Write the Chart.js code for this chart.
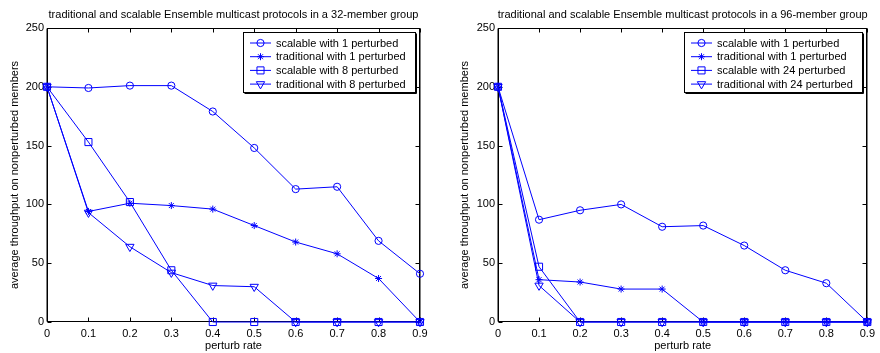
<!DOCTYPE html>
<html>
<head>
<meta charset="utf-8">
<script src="https://cdn.jsdelivr.net/npm/chart.js@4/dist/chart.umd.min.js"></script>
<style>
  html, body { margin: 0; padding: 0; background: #fff; }
  .wrap { position: absolute; top: 0; width: 440px; height: 353px; }
  canvas { display: block; }
</style>
</head>
<body>
<div class="wrap" style="left:0"><canvas id="c1" width="440" height="353"></canvas></div>
<div class="wrap" style="left:440px"><canvas id="c2" width="440" height="353"></canvas></div>
<script>
// ---- data ----
const perturbRates = ['0', '0.1', '0.2', '0.3', '0.4', '0.5', '0.6', '0.7', '0.8', '0.9'];
const yTicks = [0, 50, 100, 150, 200, 250];

// 32-member group
const g32Title = 'traditional and scalable Ensemble multicast protocols in a 32-member group';
const g32Labels = ['scalable with 1 perturbed', 'traditional with 1 perturbed', 'scalable with 8 perturbed', 'traditional with 8 perturbed'];
const g32Scalable1 = [200, 199, 201, 201, 179, 148, 113, 115, 69, 41];
const g32Traditional1 = [200, 94, 101, 99, 96, 82, 68, 58, 37, 0];
const g32Scalable8 = [200, 153, 102, 44, 0, 0, 0, 0, 0, 0];
const g32Traditional8 = [200, 93, 64, 42, 31, 30, 0, 0, 0, 0];

// 96-member group
const g96Title = 'traditional and scalable Ensemble multicast protocols in a 96-member group';
const g96Labels = ['scalable with 1 perturbed', 'traditional with 1 perturbed', 'scalable with 24 perturbed', 'traditional with 24 perturbed'];
const g96Scalable1 = [200, 87, 95, 100, 81, 82, 65, 44, 33, 0];
const g96Traditional1 = [200, 36, 34, 28, 28, 0, 0, 0, 0, 0];
const g96Scalable24 = [200, 47, 0, 0, 0, 0, 0, 0, 0, 0];
const g96Traditional24 = [200, 31, 0, 0, 0, 0, 0, 0, 0, 0];

// ---- styles ----
const BLUE = 'rgb(0,0,255)';
const FONT = 'Liberation Sans, Arial, sans-serif';
const markerStyles = [
  { pointStyle: 'circle', pointRadius: 3.6, pointRotation: 0 },
  { pointStyle: 'star', pointRadius: 3.5, pointRotation: 0 },
  { pointStyle: 'rect', pointRadius: 5, pointRotation: 0 },
  { pointStyle: 'triangle', pointRadius: 4.8, pointRotation: 180 }
];

function drawMarker(ctx, style, r, rot, x, y) {
  ctx.beginPath();
  if (style === 'circle') {
    ctx.arc(x, y, r, 0, Math.PI * 2);
  } else if (style === 'star') {
    ctx.moveTo(x - r, y); ctx.lineTo(x + r, y);
    ctx.moveTo(x, y - r); ctx.lineTo(x, y + r);
    const d = r * Math.SQRT1_2;
    ctx.moveTo(x - d, y - d); ctx.lineTo(x + d, y + d);
    ctx.moveTo(x - d, y + d); ctx.lineTo(x + d, y - d);
  } else if (style === 'rect') {
    const s = r * Math.SQRT1_2;
    ctx.rect(x - s, y - s, 2 * s, 2 * s);
  } else if (style === 'triangle') {
    let a = rot * Math.PI / 180;
    ctx.moveTo(x + Math.sin(a) * r, y - Math.cos(a) * r);
    for (let i = 0; i < 2; i++) {
      a += Math.PI * 2 / 3;
      ctx.lineTo(x + Math.sin(a) * r, y - Math.cos(a) * r);
    }
    ctx.closePath();
  }
  ctx.stroke();
}

const framePlugin = {
  id: 'frame',
  beforeDatasetsDraw(chart) {
    const { ctx, chartArea: a, scales: { x, y } } = chart;
    const L = Math.round(a.left) + 0.5, R = Math.round(a.right) - 0.5;
    const T = Math.round(a.top) + 0.5, B = Math.round(a.bottom) - 0.5;
    ctx.save();
    ctx.strokeStyle = '#000';
    ctx.lineWidth = 1;
    ctx.strokeRect(L, T, R - L, B - T);
    // thicker left / right edges like the reference
    ctx.beginPath();
    ctx.moveTo(L - 0.5, T); ctx.lineTo(L - 0.5, B);
    ctx.moveTo(R + 0.5, T); ctx.lineTo(R + 0.5, B);
    ctx.stroke();
    const tl = 4;
    ctx.beginPath();
    for (let i = 0; i < x.ticks.length; i++) {
      const px = Math.round(x.getPixelForTick(i)) + 0.5;
      ctx.moveTo(px, B); ctx.lineTo(px, B - tl);
      ctx.moveTo(px, T); ctx.lineTo(px, T + tl);
    }
    for (let i = 0; i < y.ticks.length; i++) {
      const py = Math.round(y.getPixelForValue(y.ticks[i].value)) + 0.5;
      ctx.moveTo(L, py); ctx.lineTo(L + tl, py);
      ctx.moveTo(R, py); ctx.lineTo(R - tl, py);
    }
    ctx.stroke();
    ctx.restore();
  },
  afterDraw(chart, args, opts) {
    const { ctx, chartArea: a } = chart;
    ctx.save();
    // title
    ctx.fillStyle = '#000';
    ctx.font = '11px ' + FONT;
    ctx.textAlign = 'center';
    ctx.textBaseline = 'middle';
    ctx.fillText(opts.title, (a.left + a.right) / 2, 15);
    // legend
    const ds = chart.data.datasets;
    let maxW = 0;
    ds.forEach(d => { maxW = Math.max(maxW, ctx.measureText(d.label).width); });
    const w = Math.round(33 + maxW + 9);
    const h = 60;
    const right = Math.round(a.right) - 5;
    const left = right - w;
    const top = Math.round(a.top) + 4;
    ctx.fillStyle = '#fff';
    ctx.fillRect(left, top, w, h);
    ctx.strokeStyle = '#000';
    ctx.lineWidth = 1;
    ctx.strokeRect(left + 0.5, top + 0.5, w, h);
    ctx.lineWidth = 1;
    ctx.beginPath();
    ctx.moveTo(left + 1.5, top + h + 1.5); ctx.lineTo(left + w + 1.5, top + h + 1.5); ctx.lineTo(left + w + 1.5, top + 1.5);
    ctx.stroke();
    ctx.textAlign = 'left';
    ds.forEach((d, i) => {
      const cy = top + 11 + i * 13.7;
      ctx.strokeStyle = BLUE;
      ctx.lineWidth = 1;
      ctx.beginPath();
      ctx.moveTo(left + 7, cy); ctx.lineTo(left + 28, cy);
      ctx.stroke();
      drawMarker(ctx, d.pointStyle, d.pointRadius, d.pointRotation, left + 17.5, cy);
      ctx.fillStyle = '#000';
      ctx.fillText(d.label, left + 33, cy + 0.5);
    });
    ctx.restore();
  }
};

function makeDatasets(labels, series) {
  return series.map((vals, i) => Object.assign({
    label: labels[i],
    data: vals,
    borderColor: BLUE,
    borderWidth: 1,
    pointBorderColor: BLUE,
    pointBackgroundColor: 'rgba(0,0,0,0)',
    pointBorderWidth: 1,
    tension: 0,
    clip: false
  }, markerStyles[i]));
}

function makeChart(id, title, labels, series, yWidth, rightPad, yTitlePad) {
  return new Chart(document.getElementById(id), {
    type: 'line',
    data: { labels: perturbRates, datasets: makeDatasets(labels, series) },
    options: {
      responsive: false,
      animation: false,
      layout: { padding: { left: 0, right: rightPad, top: 28, bottom: 0 } },
      plugins: { legend: { display: false }, tooltip: { enabled: false }, title: { display: false },
        frame: { title: title } },
      scales: {
        x: {
          type: 'category',
          offset: false,
          grid: { display: false, drawTicks: false },
          border: { display: false },
          ticks: { color: '#000', font: { family: FONT, size: 11 }, padding: 5, maxRotation: 0, autoSkip: false },
          title: { display: true, text: 'perturb rate', color: '#000', font: { family: FONT, size: 11 }, padding: 0 },
          afterFit(s) { s.height = 31; }
        },
        y: {
          min: 0, max: 250,
          afterBuildTicks(s) { s.ticks = yTicks.map(v => ({ value: v })); },
          grid: { display: false, drawTicks: false },
          border: { display: false },
          ticks: { color: '#000', font: { family: FONT, size: 11 }, padding: 3 },
          title: { display: true, text: 'average throughput on nonperturbed members', color: '#000',
            font: { family: FONT, size: 11 }, padding: { top: yTitlePad, bottom: 0 } },
          afterFit(s) { s.width = yWidth; }
        }
      }
    },
    plugins: [framePlugin]
  });
}

makeChart('c1', g32Title, g32Labels, [g32Scalable1, g32Traditional1, g32Scalable8, g32Traditional8], 47, 20, 8);
makeChart('c2', g96Title, g96Labels, [g96Scalable1, g96Traditional1, g96Scalable24, g96Traditional24], 58, 8, 18);
</script>
</body>
</html>
